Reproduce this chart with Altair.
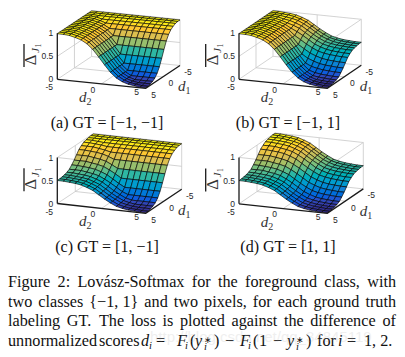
import altair as alt
import pandas as pd

# d1 index is the row, d2 index is the column; d runs -5..5 over 16 samples
d_values = [-5 + k * 10 / 15 for k in range(16)]
z_a = [
 [99,99,99,99,99,99,99,99,99,99,99,99,99,99,99,99],
 [99,99,99,99,99,99,99,99,99,99,99,99,99,99,99,99],
 [99,99,98,98,98,98,98,98,98,98,98,98,98,98,98,98],
 [99,99,98,95,95,95,95,95,95,95,95,95,95,95,95,95],
 [99,99,98,95,91,91,91,91,91,91,91,91,91,91,91,91],
 [99,99,98,95,91,84,84,84,84,84,84,84,84,84,84,84],
 [99,99,98,95,91,84,73,73,73,73,73,73,73,73,73,73],
 [99,99,98,95,91,84,73,58,58,58,58,58,58,58,58,58],
 [99,99,98,95,91,84,73,58,42,42,42,42,42,42,42,42],
 [99,99,98,95,91,84,73,58,42,27,27,27,27,27,27,27],
 [99,99,98,95,91,84,73,58,42,27,16,16,16,16,16,16],
 [99,99,98,95,91,84,73,58,42,27,16,9,9,9,9,9],
 [99,99,98,95,91,84,73,58,42,27,16,9,5,5,5,5],
 [99,99,98,95,91,84,73,58,42,27,16,9,5,3,3,3],
 [99,99,98,95,91,84,73,58,42,27,16,9,5,3,1,1],
 [99,99,98,95,91,84,73,58,42,27,16,9,5,3,1,1],
]
z_b = [
 [99,99,98,97,95,91,86,78,70,63,57,54,52,51,50,50],
 [99,99,98,97,95,91,86,78,70,63,57,54,52,51,50,50],
 [99,99,98,96,94,91,85,78,70,62,57,53,51,50,49,49],
 [99,99,98,95,93,89,84,76,68,61,55,52,50,49,48,48],
 [99,99,98,95,91,87,82,74,66,59,53,50,48,47,46,46],
 [99,99,98,95,91,84,78,71,63,55,50,46,44,43,42,42],
 [99,99,98,95,91,84,73,65,57,50,44,41,39,38,37,37],
 [99,99,98,95,91,84,73,58,50,42,37,33,31,30,29,29],
 [99,99,98,95,91,84,73,58,42,34,29,25,23,22,21,21],
 [99,99,98,95,91,84,73,58,42,27,21,18,16,15,14,14],
 [99,99,98,95,91,84,73,58,42,27,16,12,10,9,8,8],
 [99,99,98,95,91,84,73,58,42,27,16,9,7,6,5,5],
 [99,99,98,95,91,84,73,58,42,27,16,9,5,4,3,3],
 [99,99,98,95,91,84,73,58,42,27,16,9,5,3,2,2],
 [99,99,98,95,91,84,73,58,42,27,16,9,5,3,1,1],
 [99,99,98,95,91,84,73,58,42,27,16,9,5,3,1,1],
]
z_c = [
 [99,99,99,99,99,99,99,99,99,99,99,99,99,99,99,99],
 [99,99,99,99,99,99,99,99,99,99,99,99,99,99,99,99],
 [98,98,98,98,98,98,98,98,98,98,98,98,98,98,98,98],
 [97,97,96,95,95,95,95,95,95,95,95,95,95,95,95,95],
 [95,95,94,93,91,91,91,91,91,91,91,91,91,91,91,91],
 [91,91,91,89,87,84,84,84,84,84,84,84,84,84,84,84],
 [86,86,85,84,82,78,73,73,73,73,73,73,73,73,73,73],
 [78,78,78,76,74,71,65,58,58,58,58,58,58,58,58,58],
 [70,70,70,68,66,63,57,50,42,42,42,42,42,42,42,42],
 [63,63,62,61,59,55,50,42,34,27,27,27,27,27,27,27],
 [57,57,57,55,53,50,44,37,29,21,16,16,16,16,16,16],
 [54,54,53,52,50,46,41,33,25,18,12,9,9,9,9,9],
 [52,52,51,50,48,44,39,31,23,16,10,7,5,5,5,5],
 [51,51,50,49,47,43,38,30,22,15,9,6,4,3,3,3],
 [50,50,49,48,46,42,37,29,21,14,8,5,3,2,1,1],
 [50,50,49,48,46,42,37,29,21,14,8,5,3,2,1,1],
]
z_d = [
 [99,99,98,97,95,91,86,78,70,63,57,54,52,51,50,50],
 [99,99,98,97,95,91,86,78,70,63,57,54,52,51,50,50],
 [98,98,98,96,94,91,85,78,70,62,57,53,51,50,49,49],
 [97,97,96,95,93,89,84,76,68,61,55,52,50,49,48,48],
 [95,95,94,93,91,87,82,74,66,59,53,50,48,47,46,46],
 [91,91,91,89,87,84,78,71,63,55,50,46,44,43,42,42],
 [86,86,85,84,82,78,73,65,57,50,44,41,39,38,37,37],
 [78,78,78,76,74,71,65,58,50,42,37,33,31,30,29,29],
 [70,70,70,68,66,63,57,50,42,34,29,25,23,22,21,21],
 [63,63,62,61,59,55,50,42,34,27,21,18,16,15,14,14],
 [57,57,57,55,53,50,44,37,29,21,16,12,10,9,8,8],
 [54,54,53,52,50,46,41,33,25,18,12,9,7,6,5,5],
 [52,52,51,50,48,44,39,31,23,16,10,7,5,4,3,3],
 [51,51,50,49,47,43,38,30,22,15,9,6,4,3,2,2],
 [50,50,49,48,46,42,37,29,21,14,8,5,3,2,1,1],
 [50,50,49,48,46,42,37,29,21,14,8,5,3,2,1,1],
]
panel_titles = ["(a) GT = [−1, −1]", "(b) GT = [−1, 1]", "(c) GT = [1, −1]", "(d) GT = [1, 1]"]
z_ticks = ["1", "0.5", "0"]
d_ticks = ["-5", "0", "5"]
parula = ["#352a87", "#0f5cdd", "#1481d6", "#06a4ca", "#2eb7a4", "#87bf77", "#d1bb59", "#fec832", "#f9fb0e"]
caption_lines = [
    ["Figure", "2:", "Lovász-Softmax", "for", "the", "foreground", "class,", "with"],
    ["two", "classes", "{−1, 1}", "and", "two", "pixels,", "for", "each", "ground", "truth"],
    ["labeling", "GT.", "The", "loss", "is", "plotted", "against", "the", "difference", "of"],
]

# view of each 3-D box: left corner, d2 edge, d1 edge, height; title centre
panels = [
    dict(z=z_a, A=(57.3, 79.3), U=(88.4, 9.0), V=(34.3, -22.8), H=46.0, t=(107, 127.5)),
    dict(z=z_b, A=(239.0, 79.3), U=(88.3, 9.0), V=(34.0, -23.0), H=46.0, t=(288, 127.5)),
    dict(z=z_c, A=(57.3, 203.5), U=(88.4, 9.8), V=(36.0, -24.0), H=46.0, t=(107, 252)),
    dict(z=z_d, A=(239.0, 203.8), U=(88.3, 9.6), V=(36.0, -24.5), H=46.4, t=(288, 252)),
]

def proj(p, d2, d1, z):
    a, b = (d2 + 5) / 10, (5 - d1) / 10
    return (p["A"][0] + a * p["U"][0] + b * p["V"][0],
            p["A"][1] + a * p["U"][1] + b * p["V"][1] - z * p["H"])

cells, grid, black, texts = [], [], [], []

def seg(store, key, pts):
    for k, (x, y) in enumerate(pts):
        store.append(dict(id=key, k=k, x=x, y=y))

cid = 0
for pi, p in enumerate(panels):
    Z = p["z"]
    for i in range(15):
        for j in range(15):
            corners = [(i, j), (i, j + 1), (i + 1, j + 1), (i + 1, j), (i, j)]
            zm = (Z[i][j] + Z[i][j + 1] + Z[i + 1][j] + Z[i + 1][j + 1]) / 400
            for k, (r, c) in enumerate(corners):
                x, y = proj(p, d_values[c], d_values[r], Z[r][c] / 100)
                cells.append(dict(cell=cid, k=k, x=x, y=y, zc=zm))
            cid += 1
    for q, (a, b) in enumerate([
        ((-5, 5, 1), (-5, -5, 1)), ((-5, -5, 1), (5, -5, 1)), ((5, -5, 1), (5, -5, 0)),
        ((-5, -5, 0), (-5, -5, 1)), ((-5, 5, .5), (-5, -5, .5)), ((-5, -5, .5), (5, -5, .5)),
        ((-5, 5, 0), (-5, -5, 0)), ((-5, -5, 0), (5, -5, 0)), ((-5, 0, 0), (-5, 0, 1)),
        ((0, -5, 0), (0, -5, 1)), ((0, -5, 0), (0, 5, 0)), ((-5, 0, 0), (5, 0, 0)),
        ((5, 5, 1), (5, -5, 1)), ((-5, 5, 1), (5, 5, 1)),
    ]):
        seg(grid, f"{pi}-{q}", [proj(p, *a), proj(p, *b)])
    seg(black, f"{pi}-z", [proj(p, -5, 5, 0), proj(p, -5, 5, 1)])
    seg(black, f"{pi}-f", [proj(p, -5, 5, 0), proj(p, 5, 5, 0), proj(p, 5, -5, 0)])
    ox, oy = p["A"][0] - 57.3, p["A"][1] - 79.3
    seg(black, f"{pi}-bar", [(24 + ox, 44 + oy), (24 + ox, 67 + oy)])
    for lab, zv in zip(z_ticks, [1, .5, 0]):
        x, y = proj(p, -5, 5, zv)
        texts.append(dict(s="tickr", x=x - 4, y=y + 3, t=lab))
    for lab, dv in zip(d_ticks, [-5, 0, 5]):
        x, y = proj(p, dv, 5, 0)
        texts.append(dict(s="tickc", x=x - 8 + (dv + 5) * .1 * (-1.2), y=y + 11 - (dv + 5) * .45, t=lab))
        x, y = proj(p, 5, dv, 0)
        texts.append(dict(s="tickc", x=x + 8, y=y + 9.5, t=lab))
    texts += [
        dict(s="mi", x=79 + ox, y=102 + oy, t="d"),
        dict(s="msub", x=86.5 + ox, y=105 + oy, t="2"),
        dict(s="mi", x=178 + ox, y=91 + oy, t="d"),
        dict(s="msub", x=185.5 + ox, y=94 + oy, t="1"),
        dict(s="cap", x=p["t"][0], y=p["t"][1], t=panel_titles[pi]),
        dict(s="delta", x=36 + ox, y=60 + oy, t="Δ"),
        dict(s="deltaJ", x=39 + ox, y=50.5 + oy, t="J"),
        dict(s="delta1", x=41 + ox, y=45.5 + oy, t="1"),
    ]

# justify the first three caption lines with Times glyph widths (em)
TW = {"a": .444, "b": .5, "c": .444, "d": .5, "e": .444, "f": .333, "g": .5, "h": .5, "i": .278, "j": .278, "k": .5, "l": .278,
      "m": .778, "n": .5, "o": .5, "p": .5, "q": .5, "r": .333, "s": .389, "t": .278, "u": .5, "v": .5, "w": .722, "x": .5,
      "y": .5, "z": .444, "á": .444, "F": .556, "L": .611, "S": .556, "G": .722, "T": .611, "2": .5, "1": .5, ":": .278,
      ",": .25, ".": .25, "-": .333, "{": .48, "}": .48, "−": .564, " ": .25}
BODY_SIZE = 16.2
for y, words in zip([287, 306.5, 326], caption_lines):
    widths = [sum(TW[c] for c in w) * BODY_SIZE for w in words]
    gap = (396 - 8 - sum(widths)) / (len(words) - 1)
    x = 8
    for w, wd in zip(words, widths):
        texts.append(dict(s="body", x=x, y=y, t=w))
        x += wd + gap

base = 345.7
for t, x, s, y in [("unnormalized", 8, "body", base), ("scores", 99, "body", base), ("for", 317, "body", base),
                   ("1, 2.", 364, "body", base),
                   ("=", 156, "body", base), ("(", 190, "body", base), (")", 214, "body", base), ("−", 225, "body", base),
                   ("(", 253, "body", base), ("1", 259, "body", base), ("−", 273, "body", base), (")", 306, "body", base),
                   ("=", 347, "body", base), ("d", 141, "bodyi", base), ("F", 177, "bodyi", base), ("y", 195, "bodyi", base),
                   ("F", 240, "bodyi", base), ("y", 287, "bodyi", base), ("i", 338, "bodyi", base),
                   ("i", 149, "subi", 348.7), ("i", 185, "subi", 348.7), ("i", 204, "subi", 349.5), ("∗", 204, "sup", 343),
                   ("i", 248, "subi", 348.7), ("i", 296, "subi", 349.5), ("∗", 296, "sup", 343)]:
    texts.append(dict(s=s, x=x, y=y, t=t))
texts.append(dict(s="mark", x=150, y=342, t="http://blog.csdn.net/qq_34845119"))

X = alt.X("x:Q", axis=None, scale=alt.Scale(domain=[8, 397], nice=False, zero=False))
Y = alt.Y("y:Q", axis=None, scale=alt.Scale(domain=[352, 8], nice=False, zero=False))

grid_l = alt.Chart(pd.DataFrame(grid)).mark_line(color="#c8c8c8", strokeWidth=0.8).encode(X, Y, detail="id:N", order="k:Q")
cell_l = alt.Chart(pd.DataFrame(cells)).mark_line(stroke="#000000", strokeWidth=0.7, strokeOpacity=0.9).encode(
    X, Y, detail="cell:Q", order="k:Q",
    fill=alt.Fill("zc:Q", legend=None, scale=alt.Scale(domain=[i / 8 for i in range(9)], range=parula)),
)
black_l = alt.Chart(pd.DataFrame(black)).mark_line(color="#1a1a1a", strokeWidth=1.3).encode(X, Y, detail="id:N", order="k:Q")

styles = {
    "tickr": dict(font="Liberation Sans", fontSize=8.5, align="right", color="#262626"),
    "tickc": dict(font="Liberation Sans", fontSize=8.5, align="center", color="#262626"),
    "mi": dict(font="Liberation Serif", fontSize=15, fontStyle="italic", align="left", color="#333333"),
    "msub": dict(font="Liberation Serif", fontSize=10, align="left", color="#333333"),
    "cap": dict(font="Liberation Serif", fontSize=16, align="center", color="#111111"),
    "delta": dict(font="Liberation Serif", fontSize=16.5, align="center", angle=270, color="#333333"),
    "deltaJ": dict(font="Liberation Serif", fontSize=11, fontStyle="italic", align="center", angle=270, color="#333333"),
    "delta1": dict(font="Liberation Serif", fontSize=7.5, align="center", angle=270, color="#333333"),
    "body": dict(font="Liberation Serif", fontSize=BODY_SIZE, align="left", color="#111111"),
    "bodyi": dict(font="Liberation Serif", fontSize=BODY_SIZE, fontStyle="italic", align="left", color="#111111"),
    "subi": dict(font="Liberation Serif", fontSize=10.5, fontStyle="italic", align="left", color="#111111"),
    "sup": dict(font="Liberation Serif", fontSize=9, align="left", color="#111111"),
    "mark": dict(font="Liberation Sans", fontSize=15, align="left", color="#999999", opacity=0.15),
}
tdf = pd.DataFrame(texts)
text_layers = [
    alt.Chart(tdf[tdf.s == s]).mark_text(baseline="alphabetic", **st).encode(X, Y, text="t:N")
    for s, st in styles.items()
]

chart = alt.layer(grid_l, cell_l, black_l, *text_layers).properties(
    width=389, height=344, padding=0, autosize=alt.AutoSizeParams(type="none"), background="white"
).configure_view(stroke=None)

chart.save("out.html", embed_options={"renderer": "svg", "actions": False})
